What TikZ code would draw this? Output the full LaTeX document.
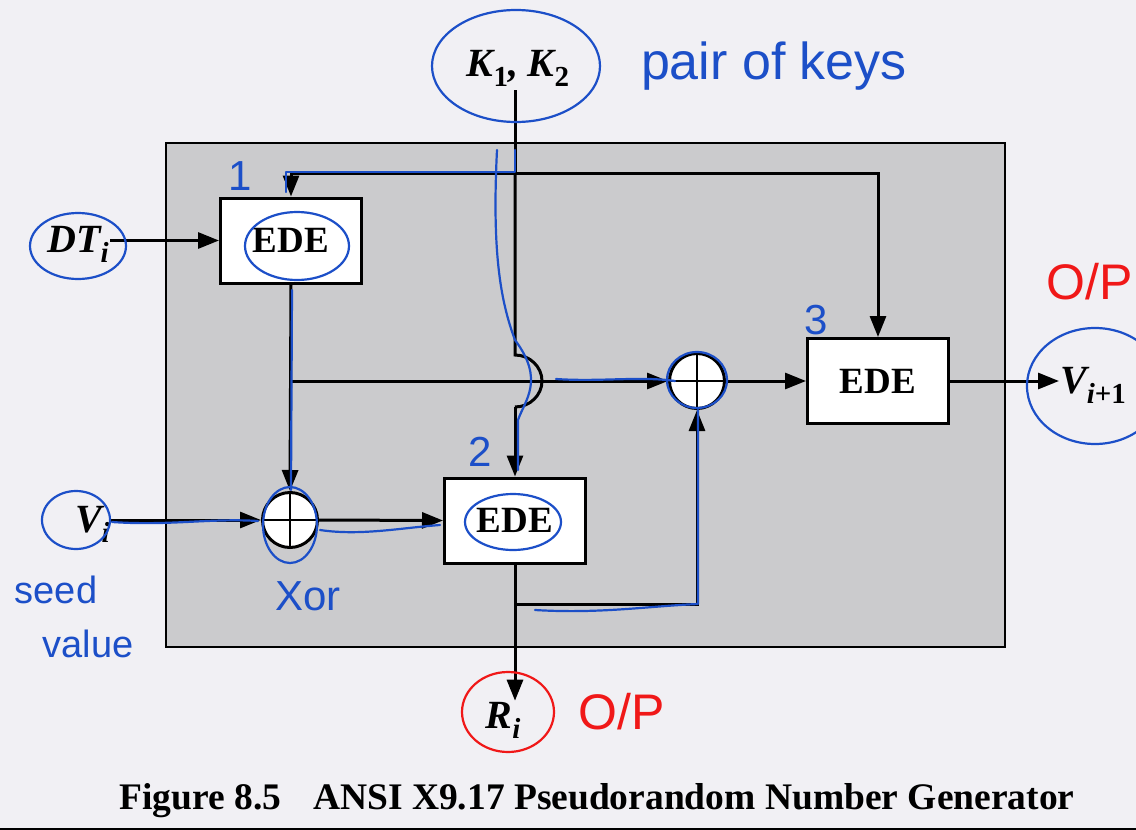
\documentclass[tikz,border=0pt]{standalone}
\usepackage{fontspec}
\setmainfont{Liberation Serif}
\newfontfamily\hand{Liberation Sans}
\usetikzlibrary{arrows.meta}
\definecolor{paper}{HTML}{F1F0F4}
\definecolor{panel}{HTML}{CBCBCD}
\definecolor{ink}{HTML}{1C4FC8}
\definecolor{redink}{HTML}{F01818}
\newcommand\mysub[1]{\raisebox{-10pt}{\fontsize{29}{29}\selectfont #1}}
\begin{document}
\begin{tikzpicture}[x=1pt,y=-1pt,
  line/.style={line width=3pt},
  arr/.style={line width=3pt,-{Triangle[length=21pt,width=16pt]}},
  edebox/.style={draw,line width=3pt,fill=white,minimum width=141pt,minimum height=85pt,inner sep=0pt,font=\fontsize{37}{37}\selectfont\bfseries},
  xorc/.style={draw,line width=3pt,fill=white,circle,minimum size=55pt,inner sep=0pt},
  lbl/.style={inner sep=1pt,font=\fontsize{40}{40}\selectfont\bfseries\itshape},
  hw/.style={ink,line width=2.2pt,line cap=round,line join=round},
  hwtext/.style={ink,inner sep=0pt,font=\hand\fontsize{42}{42}\selectfont},
  redtext/.style={redink,inner sep=0pt,font=\hand\fontsize{50}{50}\selectfont},
]
\useasboundingbox (0,0) rectangle (1136,830);
\fill[paper] (0,0) rectangle (1136,830);
\draw[line width=2pt] (0,829) -- (1136,829);
% panel
\draw[line width=2.8pt,fill=panel] (166,143) rectangle (1005,647);
% blocks
\node[edebox] (e1) at (291,240.5) {EDE};
\node[edebox] (e2) at (515,520.5) {EDE};
\node[edebox] (e3) at (878,381) {EDE};
\node[xorc] (x1) at (290,520) {};
\node[xorc] (x2) at (697,381) {};
\draw[line width=2.6pt] (x1.north) -- (x1.south) (x1.west) -- (x1.east);
\draw[line width=2.6pt] (x2.north) -- (x2.south) (x2.west) -- (x2.east);
% labels
\node[lbl] (k) at (518,68) {K\mysub{\upshape 1}, K\mysub{\upshape 2}};
\node[lbl,anchor=east] (dt) at (110,244) {DT\mysub{i}};
\node[lbl,anchor=east] (vi) at (111,524) {V\mysub{i}};
\node[lbl,anchor=west] (vo) at (1059,385) {V\mysub{i\upshape+1}};
\node[lbl] (ri) at (503,720) {R\mysub{i}};
\node[inner sep=0pt,font=\fontsize{37.5}{37.5}\selectfont\bfseries] (cap) at (597,801) {Figure 8.5\hspace{0.6em} ANSI X9.17 Pseudorandom Number Generator};
% junction coordinates
\coordinate (kj) at (515,173);
\coordinate (ktop) at (515,90);
\coordinate (jmpa) at (515,355);
\coordinate (jmpb) at (515,407);
\coordinate (br1) at (290,381);
\coordinate (br2) at (515,604);
% key distribution
\draw[line] (ktop) -- (kj);
\draw[arr] (kj) -| (e1.north);
\draw[arr] (kj) -| (e3.north);
\draw[line] (kj) -- (jmpa) .. controls (530,355) and (542,367) .. (542,381) .. controls (542,395) and (530,407) .. (jmpb);
\draw[arr] (jmpb) -- (e2.north);
% data flow
\draw[arr] (e1.west -| dt.east) -- (e1.west);
\draw[arr] (e1.south) -- (x1.north);
\draw[arr] (br1) -- (x2.west);
\draw[arr] (x1.west -| vi.east) -- (x1.west);
\draw[arr] (x1.east) -- (e2.west);
\draw[arr] (e2.south) -- (e2.south |- ri.north);
\draw[arr] (br2) -| (x2.south);
\draw[arr] (x2.east) -- (e3.west);
\draw[arr] (e3.east) -- (e3.east -| vo.west);
% handwritten annotations
\draw[hw] (516,66) ellipse [x radius=84,y radius=56];
\draw[hw] (78,246) ellipse [x radius=48,y radius=33];
\draw[hw] (297,246) ellipse [x radius=52,y radius=34];
\draw[hw] (76,520) ellipse [x radius=34,y radius=29];
\draw[hw] (290,525) ellipse [x radius=27,y radius=38];
\draw[hw] (697,380) ellipse [x radius=30,y radius=28];
\draw[hw] (513,522) ellipse [x radius=48,y radius=28];
\draw[hw] (1095,386) ellipse [x radius=68,y radius=58];
\draw[redink,line width=2.2pt] (508,712) ellipse [x radius=46,y radius=40];
\draw[hw] (515,150) -- (515,172) -- (286,172) -- (286,192);
\draw[hw] (497,150) .. controls (492,250) and (500,300) .. (515,340) .. controls (545,380) and (525,400) .. (518,420) -- (518,470);
\draw[hw] (292,290) -- (291,490);
\draw[hw] (556,379) .. controls (600,382) and (640,376) .. (675,381);
\draw[hw] (112,522) .. controls (170,526) and (210,518) .. (258,521);
\draw[hw] (320,530) .. controls (360,536) and (400,528) .. (440,525);
\draw[hw] (535,610) .. controls (600,614) and (650,606) .. (698,604) -- (698,410);
\node[hwtext,font=\hand\fontsize{52}{52}\selectfont] (t0) at (774,66) {pair of keys};
\node[hwtext] (t1) at (240,176) {1};
\node[hwtext] (t2) at (480,452) {2};
\node[hwtext] (t3) at (816,320) {3};
\node[hwtext] (t4) at (308,596) {Xor};
\node[hwtext,font=\hand\fontsize{38}{38}\selectfont] (t5) at (56,590) {seed};
\node[hwtext,font=\hand\fontsize{38}{38}\selectfont] (t6) at (88,644) {value};
\node[redtext,anchor=west] (t7) at (1046,282) {O/P};
\node[redtext] (t8) at (622,712) {O/P};
\end{tikzpicture}
\end{document}
